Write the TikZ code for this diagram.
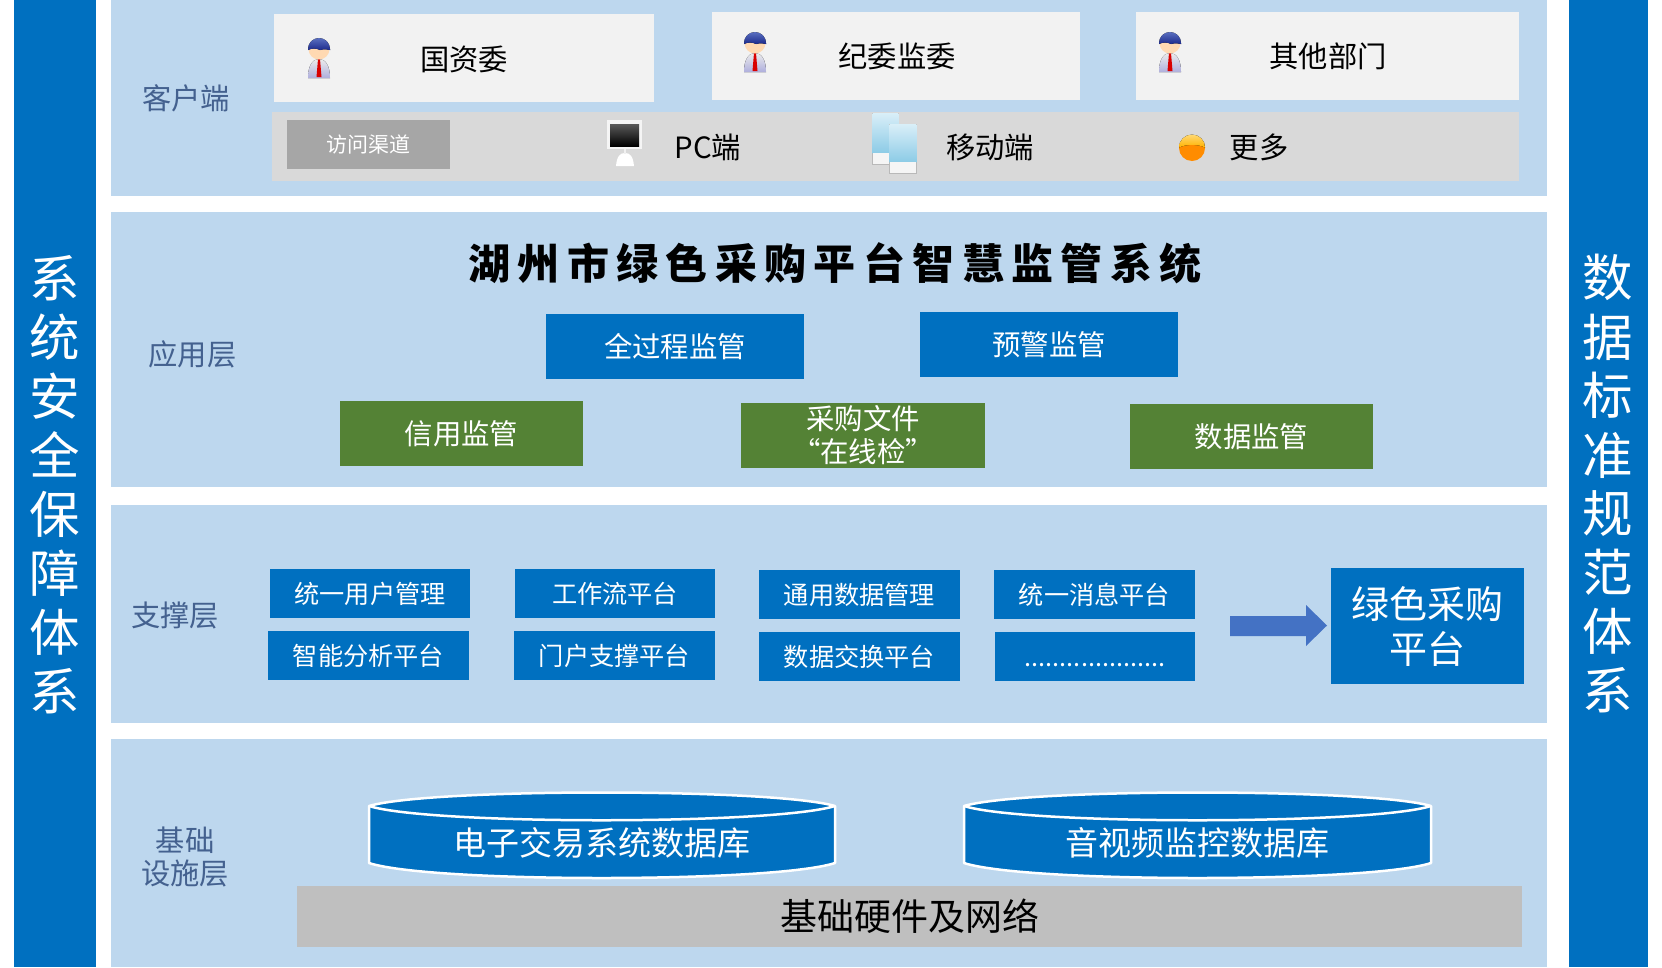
\documentclass[tikz,border=0pt]{standalone}
\usepackage{fontspec}
\setmainfont{Noto Sans CJK SC}
\newfontfamily\titlefont[LetterSpace=17.5]{Noto Sans CJK SC}
\usetikzlibrary{calc}
\definecolor{barblue}{HTML}{0070C0}
\definecolor{band}{HTML}{BDD7EE}
\definecolor{lbl}{HTML}{44618F}
\definecolor{greenb}{HTML}{548235}
\definecolor{whitebox}{HTML}{F2F2F2}
\definecolor{rowgrey}{HTML}{D9D9D9}
\definecolor{chgrey}{HTML}{A6A6A6}
\definecolor{basegrey}{HTML}{BFBFBF}
\definecolor{arrowblue}{HTML}{4472C4}
\definecolor{hairtop}{HTML}{5A6FC0}
\definecolor{hairlow}{HTML}{1C2A8C}
\definecolor{phonelt}{HTML}{D8EEF8}
\definecolor{phonedk}{HTML}{8CCBE6}
\newcommand{\fsz}[1]{\fontsize{#1}{#1}\selectfont}
\newcommand{\fszb}[2]{\fontsize{#1}{#2}\selectfont}
\newcommand{\rectnode}[7]{%
  \pgfmathsetmacro{\rw}{#4-#2}\pgfmathsetmacro{\rh}{#5-#3}%
  \node[#6,minimum width=\rw pt,minimum height=\rh pt] (#1) at ({(#2+#4)/2},{(#3+#5)/2}) {#7};}
\newcommand{\person}[2]{%
  \begin{scope}[shift={(#1,#2)}]
    \fill[top color=gray!15,bottom color=gray!60!blue!45] (-11,41) .. controls (-11,28) and (-6,22) .. (0,22) .. controls (6,22) and (11,28) .. (11,41) -- cycle;
    \fill[red!85!black] (-1,22) -- (1,22) -- (2.5,40) -- (-2.5,40) -- cycle;
    \fill[orange!30!white] (0,12) circle (10.5);
    \fill[top color=hairtop,bottom color=hairlow] (-11,12) arc (180:360:11) -- (11,13) .. controls (6,12) and (3,12) .. (1,13) .. controls (-3,11) and (-7,11) .. (-11,13) -- cycle;
  \end{scope}}
\newcommand{\phoneicon}[4]{%
  \fill[gray!55] (#1,#2) rectangle (#3,#4);
  \fill[top color=phonelt,bottom color=phonedk] ({#1+.7},{#2+.7}) rectangle ({#3-.7},{#4-12});
  \fill[gray!8] ({#1+.7},{#4-12}) rectangle ({#3-.7},{#4-.7});}
\tikzset{
  x=1pt,y=-1pt,
  bandbox/.style={fill=band,draw=none,inner sep=0},
  sidebar/.style={fill=barblue,draw=none,inner sep=0},
  sidetext/.style={text=white,font=\fszb{50.5}{59},align=center,inner sep=0,text width=60pt},
  layer/.style={text=lbl,font=\fszb{29.3}{33},align=center,inner sep=0},
  clientbox/.style={fill=whitebox,draw=none,inner sep=0,font=\fsz{29},text=black},
  appblue/.style={fill=barblue,draw=none,inner sep=0,text=white,font=\fsz{28.4},align=center},
  appgreen/.style={fill=greenb,draw=none,inner sep=0,text=white,font=\fsz{28.4},align=center},
  supbox/.style={fill=barblue,draw=none,inner sep=0,text=white,font=\fsz{25.2},align=center},
  plain/.style={inner sep=0,text=black,font=\fsz{29.3}},
  dbshape/.style={fill=barblue,draw=white,line width=2.5pt,line join=round},
  arrowshape/.style={fill=arrowblue,draw=none},
}
\begin{document}
\begin{tikzpicture}
\useasboundingbox (0,0) rectangle (1662,967);
\fill[white] (0,0) rectangle (1662,967);
% side bars
\rectnode{lbar}{14}{0}{96}{967}{sidebar}{}
\rectnode{rbar}{1569}{0}{1648}{967}{sidebar}{}
\node[sidetext] (ltext) at (54.5,485) {系\\统\\安\\全\\保\\障\\体\\系};
\node[sidetext] (rtext) at (1607.5,484) {数\\据\\标\\准\\规\\范\\体\\系};
% bands
\rectnode{b1}{111}{0}{1547}{196}{bandbox}{}
\rectnode{b2}{111}{212}{1547}{487}{bandbox}{}
\rectnode{b3}{111}{505}{1547}{723}{bandbox}{}
\rectnode{b4}{111}{739}{1547}{967}{bandbox}{}
% client layer
\node[layer] (l1) at (186,98) {客户端};
\rectnode{c1}{274}{14}{654}{102}{clientbox}{}
\rectnode{c2}{712}{12}{1080}{100}{clientbox}{}
\rectnode{c3}{1136}{12}{1519}{100}{clientbox}{}
\node[plain] (t1) at (464,59) {国资委};
\node[plain] (t2) at (897,56.5) {纪委监委};
\node[plain] (t3) at (1328,56.5) {其他部门};
\person{319}{37}
\person{755}{31}
\person{1170}{31}
\rectnode{row}{272}{112}{1519}{181}{fill=rowgrey,inner sep=0}{}
\rectnode{chan}{287}{120}{450}{169}{fill=chgrey,inner sep=0,text=white,font=\fsz{21}}{访问渠道}
% monitor
\fill[gray!8] (607,120) rectangle (642,149);
\fill[top color=gray!70!black,bottom color=black] (610,124) rectangle (639,146);
\fill[white] (616,166) .. controls (617,156) and (620,153) .. (625,153) .. controls (630,153) and (633,156) .. (634,166) -- cycle;
\fill[gray!12] (624,149) rectangle (626,154);
\node[plain] (t4) at (708,147) {PC端};
% phones
\phoneicon{872}{113}{899}{165}
\phoneicon{889}{124}{917}{174}
\node[plain] (t5) at (990,147) {移动端};
% ball
\fill[orange!90!yellow] (1192,148) circle (13);
\fill[top color=yellow!45!orange!55,bottom color=orange!60!yellow] (1179,147.5) arc (180:360:13) .. controls (1198,144) and (1186,144) .. (1179,147.5) -- cycle;
\node[plain] (t6) at (1259,147) {更多};
% application layer
\node[layer] (l2) at (192.5,354) {应用层};
\node[inner sep=0,font=\titlefont\bfseries\fsz{42},text=black] (title) at (835,263) {湖州市绿色采购平台智慧监管系统};
\rectnode{a1}{546}{314}{804}{379}{appblue}{全过程监管}
\rectnode{a2}{920}{312}{1178}{377}{appblue}{预警监管}
\rectnode{a3}{340}{401}{583}{466}{appgreen}{信用监管}
\rectnode{a4}{741}{403}{985}{468}{appgreen,font=\fszb{28.4}{33}}{采购文件\\“在线检”}
\rectnode{a5}{1130}{404}{1373}{469}{appgreen}{数据监管}
% support layer
\node[layer] (l3) at (175,615.5) {支撑层};
\rectnode{s1}{270}{569}{470}{618}{supbox}{统一用户管理}
\rectnode{s2}{515}{569}{715}{618}{supbox}{工作流平台}
\rectnode{s3}{759}{570}{960}{619}{supbox}{通用数据管理}
\rectnode{s4}{994}{570}{1195}{619}{supbox}{统一消息平台}
\rectnode{s5}{268}{631}{469}{680}{supbox}{智能分析平台}
\rectnode{s6}{514}{631}{715}{680}{supbox}{门户支撑平台}
\rectnode{s7}{759}{632}{960}{681}{supbox}{数据交换平台}
\rectnode{s8}{995}{632}{1195}{681}{supbox}{\vphantom{统}....................}
\rectnode{gp}{1331}{568}{1524}{684}{appblue,font=\fszb{38}{45}}{绿色采购\\平台}
\fill[arrowshape] (1230,616) -- (1306,616) -- (1306,605) -- (1327,625.5) -- (1306,646) -- (1306,636) -- (1230,636) -- cycle;
% base layer
\node[layer] (l4) at (185,857) {基础\\设施层};
\draw[dbshape] (369,806) .. controls (430,788) and (773,788) .. (835,806) -- (835,863) .. controls (773,883) and (430,883) .. (369,863) -- cycle;
\draw[white,line width=2.5pt] (369,806) .. controls (430,825) and (773,825) .. (835,806);
\node[inner sep=0,text=white,font=\fsz{33}] (d1) at (602,843) {电子交易系统数据库};
\draw[dbshape] (964,806) .. controls (1025,788) and (1370,788) .. (1431,806) -- (1431,863) .. controls (1370,883) and (1025,883) .. (964,863) -- cycle;
\draw[white,line width=2.5pt] (964,806) .. controls (1025,825) and (1370,825) .. (1431,806);
\node[inner sep=0,text=white,font=\fsz{33}] (d2) at (1197,843) {音视频监控数据库};
\rectnode{hw}{297}{886}{1522}{947}{fill=basegrey,inner sep=0,font=\fsz{37},text=black}{\raisebox{-1pt}{基础硬件及网络}}
\end{tikzpicture}
\end{document}
